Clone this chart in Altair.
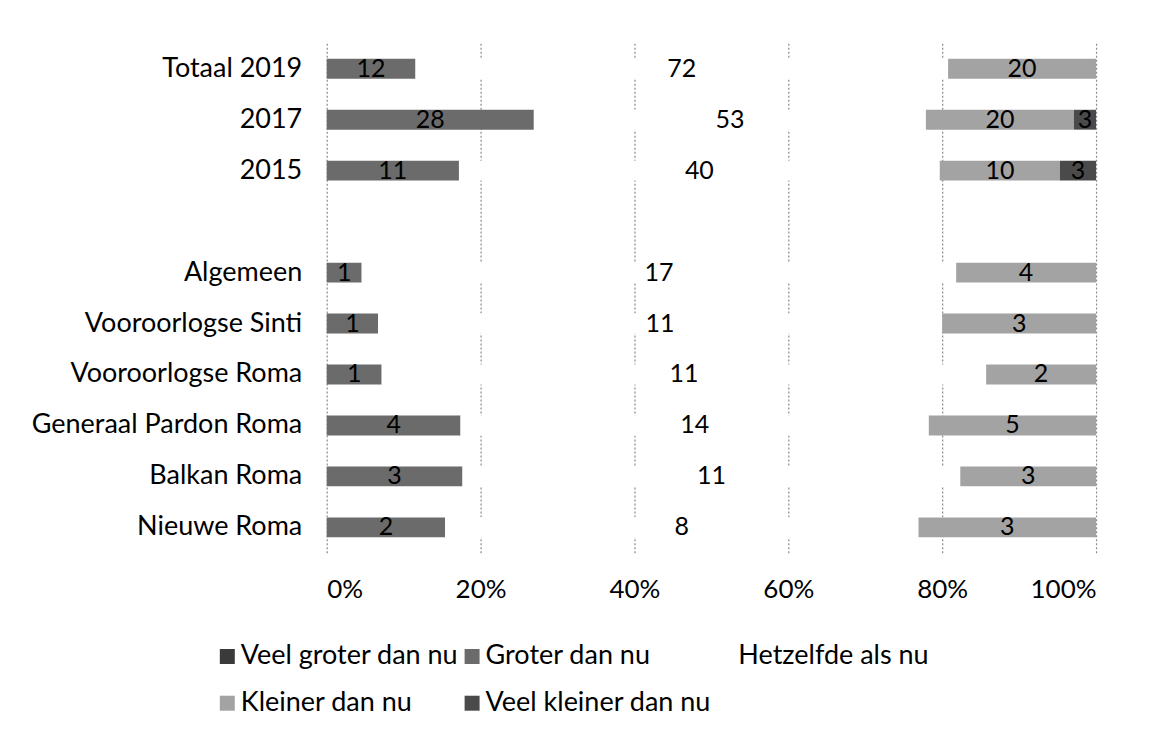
import altair as alt
import pandas as pd

categories = ["Totaal 2019", "2017", "2015", " ", "Algemeen", "Vooroorlogse Sinti",
              "Vooroorlogse Roma", "Generaal Pardon Roma", "Balkan Roma", "Nieuwe Roma"]
series = ["Veel groter dan nu", "Groter dan nu", "Hetzelfde als nu",
          "Kleiner dan nu", "Veel kleiner dan nu"]
veel_groter = [0, 0, 0, None, 0, 0, 0, 0, 0, 0]
groter = [12, 28, 11, None, 1, 1, 1, 4, 3, 2]
hetzelfde = [72, 53, 40, None, 17, 11, 11, 14, 11, 8]
kleiner = [20, 20, 10, None, 4, 3, 2, 5, 3, 3]
veel_kleiner = [0, 3, 3, None, 0, 0, 0, 0, 0, 0]
colors = ["#3a3a3a", "#6b6b6b", "#ffffff", "#a3a3a3", "#4a4a4a"]
# legend entries in column-major order so rows read: VG, G, H / K, VK
legend_order = ["Veel groter dan nu", "Kleiner dan nu", "Groter dan nu",
                "Veel kleiner dan nu", "Hetzelfde als nu"]

rows = []
for s_i, (name, vals) in enumerate(zip(series, [veel_groter, groter, hetzelfde, kleiner, veel_kleiner])):
    for cat, v in zip(categories, vals):
        if v is None:
            continue
        rows.append({"cat": cat, "serie": name, "order": s_i, "value": v})
df = pd.DataFrame(rows)

FONT = "Lato"
FS = 27

base = alt.Chart(df).transform_stack(
    stack="value", groupby=["cat"], as_=["x0", "x1"],
    offset="normalize", sort=[alt.SortField("order", order="ascending")]
)

yenc = alt.Y("cat:N", sort=categories,
             scale=alt.Scale(domain=categories, paddingInner=0.61, paddingOuter=0.305),
             axis=alt.Axis(title=None, ticks=False, domain=False, labelFontSize=FS, labelFont=FONT,
                           labelColor="#000000", labelPadding=25, labelLimit=320))

bars = base.mark_bar().encode(
    x=alt.X("x0:Q", scale=alt.Scale(domain=[0, 1], nice=False),
            axis=alt.Axis(title=None, values=[0, 0.2, 0.4, 0.6, 0.8, 1.0], format=".0%",
                          ticks=False, domain=False, grid=True, gridDash=[2, 2], gridColor="#8a8a8a",
                          gridWidth=1.2, labelFontSize=26, labelFont=FONT, labelColor="#000000",
                          labelPadding=24)),
    x2="x1:Q",
    y=yenc,
    color=alt.Color("serie:N", sort=series, scale=alt.Scale(domain=series, range=colors),
                    legend=alt.Legend(title=None, orient="none", legendX=-113, legendY=600, columns=3,
                                      values=legend_order,
                                      symbolType="square", symbolSize=225, symbolStrokeWidth=0,
                                      labelFontSize=FS, labelFont=FONT, labelColor="#000000",
                                      rowPadding=19, columnPadding=-12, labelOffset=0,
                                      padding=0, labelLimit=400)),
)

labels = base.transform_filter(alt.datum.value > 0).transform_calculate(
    mid="(datum.x0 + datum.x1) / 2"
).mark_text(fontSize=25, font=FONT, color="#000000").encode(
    x=alt.X("mid:Q"),
    y=alt.Y("cat:N", sort=categories),
    text=alt.Text("value:Q"),
)

chart = alt.layer(bars, labels).properties(
    width=770, height=510,
    background="#ffffff",
    autosize=alt.AutoSizeParams(type="none"),
    padding={"left": 319, "top": 35, "right": 55, "bottom": 185},
).configure_view(stroke=None)

chart.save("out.html", embed_options={"renderer": "svg", "actions": False})
